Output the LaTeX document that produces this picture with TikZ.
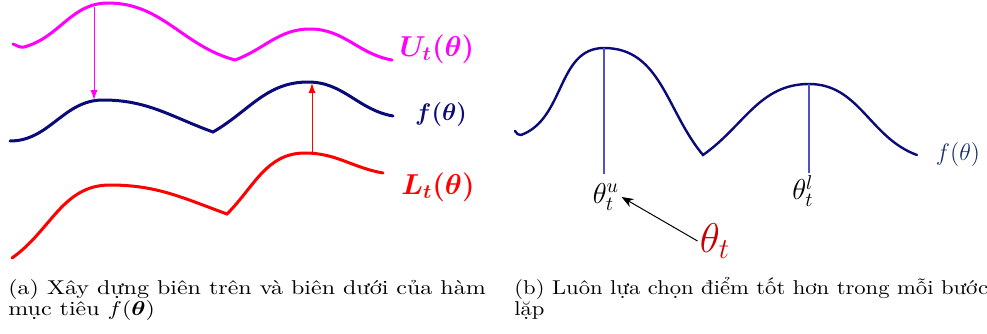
\documentclass[tikz,border=0pt]{standalone}
\usepackage{amsmath,amssymb,bm}
\usepackage{fontspec}
\usetikzlibrary{positioning,calc}
\usetikzlibrary{arrows.meta}
\definecolor{UpMag}{RGB}{255,0,255}
\definecolor{FunNavy}{RGB}{10,10,120}
\definecolor{LowRed}{RGB}{255,0,0}
\definecolor{ThRed}{RGB}{200,0,0}
\definecolor{LineBlue}{RGB}{80,80,200}
\definecolor{LabNavy}{RGB}{25,45,110}
\tikzset{
  curve/.style={line width=1.5pt,line cap=round},
  bound/.style={line width=0.5pt,-{Latex[length=5pt,width=3.5pt]}},
  vline/.style={draw=LineBlue,line width=0.6pt},
  lab/.style={inner sep=1pt,font=\Large},
  captext/.style={inner sep=0pt,anchor=base west,font=\fontsize{10}{10.6}\selectfont},
}
\newcommand{\wide}[2]{\scalebox{#1}[1]{\parbox[t]{240pt}{\raggedright #2}}}
\begin{document}
\begin{tikzpicture}[x=0.5pt,y=-0.5pt]
\useasboundingbox (0,0) rectangle (987,333);
% (a) upper bound, objective, lower bound
\coordinate (u1) at (94,7);
\coordinate (f1) at (94,100);
\coordinate (l2) at (312,153);
\coordinate (f2) at (312,83);
\draw[curve,UpMag] (13,44) to[out=-20,in=190] (24,47) to[out=15,in=180] (108,3)
  to[out=0,in=165] (235,60) to[out=20,in=180] (310,29) to[out=0,in=170] (392,60);
\draw[curve,FunNavy] (10,141) to[out=0,in=180] (103,100)
  to[out=0,in=160] (213,132) to[out=30,in=180] (308,82) to[out=0,in=170] (393,116);
\draw[curve,LowRed] (12,258) to[out=35,in=180] (110,185)
  to[out=0,in=160] (227,214) to[out=45,in=180] (305,153) to[out=0,in=170] (383,173);
\draw[bound,UpMag] (u1) -- (f1);
\draw[bound,LowRed] (l2) -- (f2);
\node[lab,text=UpMag] (U) at (437,49) {$\boldsymbol{U_t(\theta)}$};
\node[lab,text=FunNavy,font=\fontsize{13}{15}\selectfont] (F) at (441,114) {$\boldsymbol{f(\theta)}$};
\node[lab,text=LowRed] (L) at (438,187) {$\boldsymbol{L_t(\theta)}$};
% (b) keep the better point
\coordinate (pu) at (604,48);
\coordinate (pl) at (809,84);
\coordinate (bu) at (604,174);
\coordinate (bl) at (809,173);
\draw[curve,FunNavy,line width=1.2pt] (515,131) to[out=-50,in=200] (521,135) to[out=20,in=180] (pu)
  to[out=0,in=130] (703,155) to[out=35,in=180] (pl) to[out=0,in=160] (917,155);
\draw[vline] (pu) -- (bu);
\draw[vline] (pl) -- (bl);
\node[lab,text=LabNavy,font=\fontsize{13}{15}\selectfont] (Fb) at (958,154) {$f(\theta)$};
\node[lab] (thu) at (606,197) {$\theta_t^u$};
\node[lab] (thl) at (803,191) {$\theta_t^l$};
\node[lab,text=ThRed,font=\huge] (tht) at (715,241) {$\theta_t$};
\draw[line width=0.5pt,-{Stealth[length=6pt,width=4.5pt]}] (tht.west) -- (thu.east);
% captions
\node[captext] (capa) at (8,294) {\wide{1.2}{(a) Xây dựng biên trên và biên dưới của hàm\\mục tiêu $f(\boldsymbol{\theta})$}};
\node[captext] (capb) at (514,294) {\wide{1.13}{(b) Luôn lựa chọn điểm tốt hơn trong mỗi bước\\lặp}};
\end{tikzpicture}
\end{document}
